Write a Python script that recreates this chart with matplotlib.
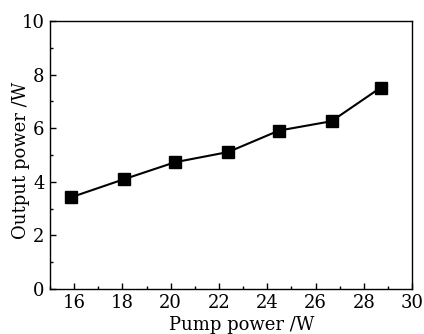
import matplotlib
matplotlib.use("Agg")
import matplotlib.pyplot as plt
from matplotlib.ticker import MultipleLocator

pump_power = [15.87, 18.08, 20.18, 22.38, 24.48, 26.66, 28.69]
output_power = [3.42, 4.10, 4.73, 5.11, 5.91, 6.26, 7.51]

plt.rcParams['font.family'] = ['DejaVu Serif']

fig = plt.figure(figsize=(4.24, 3.34), dpi=100)
ax = fig.add_axes([0.118, 0.135, 0.854, 0.802])

ax.plot(pump_power, output_power, color='black', linewidth=1.5,
        marker='s', markersize=8.5)

ax.set_xlim(15, 30)
ax.set_ylim(0, 10)
ax.xaxis.set_major_locator(MultipleLocator(2))
ax.xaxis.set_minor_locator(MultipleLocator(1))
ax.yaxis.set_major_locator(MultipleLocator(2))
ax.yaxis.set_minor_locator(MultipleLocator(1))
ax.set_xticks(range(16, 31, 2))

ax.tick_params(which='both', direction='in', top=False, right=False,
               labelsize=13, pad=4)
ax.tick_params(which='major', length=4, width=1)
ax.tick_params(which='minor', length=2.5, width=1)
for s in ax.spines.values():
    s.set_linewidth(1)

ax.set_xlabel('Pump power /W', fontsize=13)
ax.set_ylabel('Output power /W', fontsize=13)
ax.xaxis.set_label_coords(0.53, -0.102)
ax.yaxis.set_label_coords(-0.055, 0.48)

fig.savefig('out.png', dpi=100)
